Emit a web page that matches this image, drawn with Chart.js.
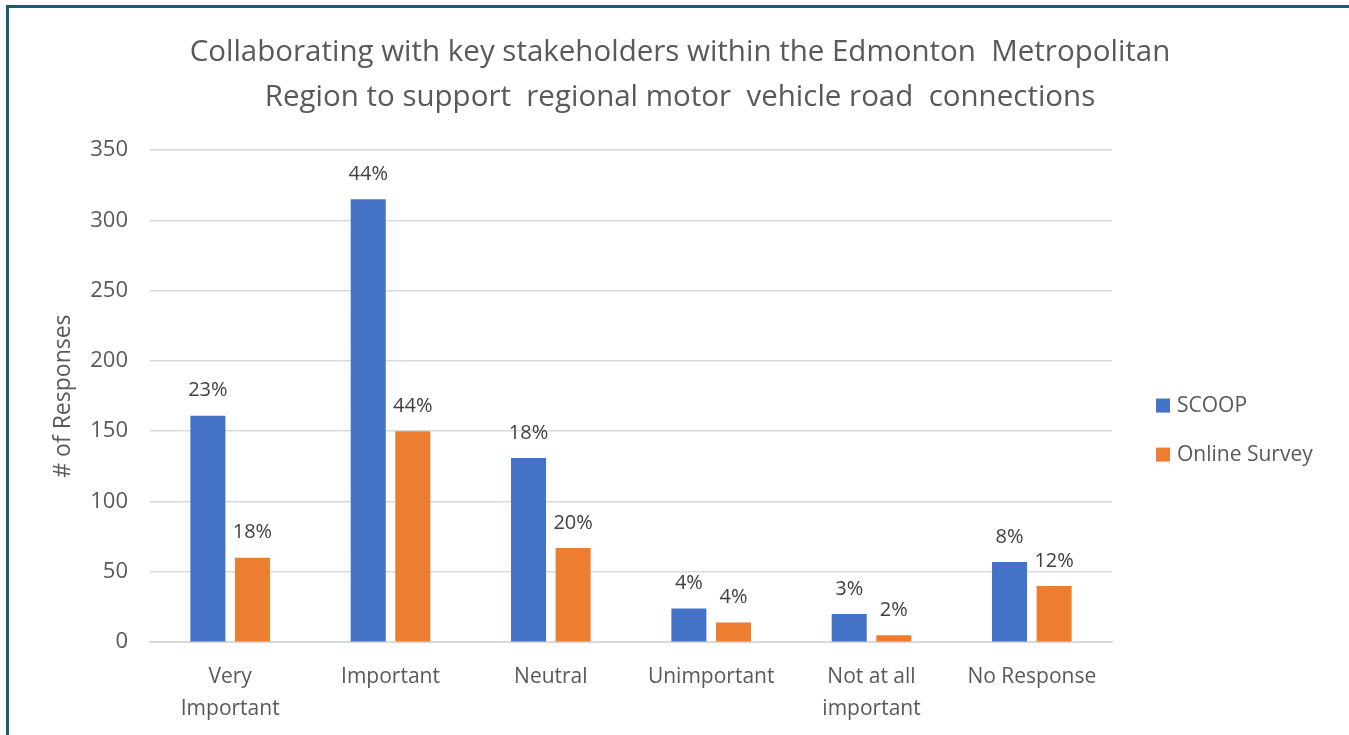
<!DOCTYPE html>
<html>
<head>
<meta charset="utf-8">
<script src="https://cdn.jsdelivr.net/npm/chart.js@4.4.1/dist/chart.umd.min.js"></script>
<style>
  body { margin: 0; background: #fff; }
  #wrap { position: relative; width: 1349px; height: 735px; overflow: hidden; }
  #frame { position: absolute; left: 6px; top: 5px; right: -10px; bottom: -10px;
           border-top: 3px solid #1b5a73; border-left: 3px solid #1b5a73; }
  canvas { position: absolute; left: 0; top: 0; }
</style>
</head>
<body>
<div id="wrap">
  <div id="frame"></div>
  <canvas id="responsesChart" width="1349" height="735"></canvas>
</div>
<script>
// Edmonton regional road connections survey
const categories = [['Very', 'Important'], 'Important', 'Neutral', 'Unimportant', ['Not at all', 'important'], 'No Response'];
const scoopValues = [161, 315, 131, 24, 20, 57];
const onlineValues = [60, 150, 67, 14, 5, 40];
const scoopPercents = ['23%', '44%', '18%', '4%', '3%', '8%'];
const onlinePercents = ['18%', '44%', '20%', '4%', '2%', '12%'];
const yTicks = [0, 50, 100, 150, 200, 250, 300, 350];
const titleLines = ['Collaborating with key stakeholders within the Edmonton  Metropolitan', 'Region to support  regional motor  vehicle road  connections'];

const textColor = '#595959';
const fontName = '"Open Sans"';

// title centred on the whole frame, not on the plot
const frameTitle = {
  id: 'frameTitle',
  afterDraw(chart) {
    const c = chart.ctx;
    c.save();
    c.font = '29.5px ' + fontName;
    c.fillStyle = textColor;
    c.textAlign = 'center';
    c.textBaseline = 'middle';
    titleLines.forEach(function(line, i) {
      c.fillText(line, 680, 53 + i * 45);
    });
    c.restore();
  }
};

// percent labels over each bar
const barLabels = {
  id: 'barLabels',
  afterDatasetsDraw(chart) {
    const c = chart.ctx;
    c.save();
    c.font = '20px ' + fontName;
    c.fillStyle = '#404040';
    c.textAlign = 'center';
    c.textBaseline = 'middle';
    chart.data.datasets.forEach(function(ds, i) {
      chart.getDatasetMeta(i).data.forEach(function(bar, j) {
        c.fillText(ds.percents[j], bar.x, bar.y - 25);
      });
    });
    c.restore();
  }
};

// legend on the right, spaced like the original
const sideLegend = {
  id: 'sideLegend',
  afterDraw(chart) {
    const c = chart.ctx;
    const x = chart.chartArea.right + 44;
    const mid = (chart.chartArea.top + chart.chartArea.bottom) / 2 + 34;
    c.save();
    c.font = '21px ' + fontName;
    c.textBaseline = 'middle';
    chart.data.datasets.forEach(function(ds, i) {
      const y = mid + (i - 0.5) * 49;
      c.fillStyle = ds.backgroundColor;
      c.fillRect(x, y - 7, 14, 14);
      c.fillStyle = textColor;
      c.fillText(ds.label, x + 21, y);
    });
    c.restore();
  }
};

new Chart(document.getElementById('responsesChart'), {
  type: 'bar',
  data: {
    labels: categories,
    datasets: [{
      label: 'SCOOP',
      data: scoopValues,
      percents: scoopPercents,
      backgroundColor: '#4472C4',
      categoryPercentage: 0.556,
      barPercentage: 0.786,
    }, {
      label: 'Online Survey',
      data: onlineValues,
      percents: onlinePercents,
      backgroundColor: '#ED7D31',
      categoryPercentage: 0.556,
      barPercentage: 0.786,
    }]
  },
  options: {
    responsive: false,
    animation: false,
    layout: { padding: { left: 50, right: 237, top: 150, bottom: -1 } },
    plugins: {
      legend: { display: false },
      tooltip: { enabled: false },
      title: { display: false }
    },
    scales: {
      x: {
        grid: { display: false },
        border: { color: '#d9d9d9', width: 2 },
        ticks: {
          color: textColor,
          padding: 11,
          maxRotation: 0,
          font: { family: fontName, size: 21, lineHeight: 1.52 }
        }
      },
      y: {
        min: 0,
        max: 350,
        afterBuildTicks: function(scale) {
          scale.ticks = yTicks.map(function(v) { return { value: v }; });
        },
        afterFit: function(scale) { scale.width = 100; },
        grid: { color: '#d9d9d9', lineWidth: 1.5, drawTicks: false },
        border: { display: false },
        ticks: {
          color: textColor,
          padding: 22,
          font: { family: fontName, size: 22 }
        },
        title: {
          display: true,
          text: '# of Responses',
          color: textColor,
          font: { family: fontName, size: 23 },
          padding: 0
        }
      }
    }
  },
  plugins: [barLabels, sideLegend, frameTitle]
});
</script>
</body>
</html>
